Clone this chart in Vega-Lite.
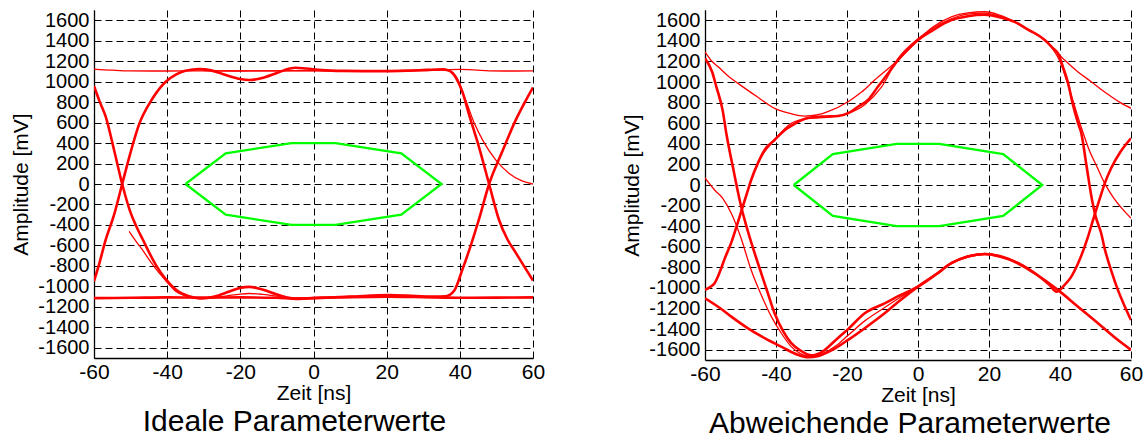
{
  "$schema": "https://vega.github.io/schema/vega-lite/v6.json",
  "padding": {"left": 10, "top": 10, "right": 5, "bottom": 0},
  "background": "white",
  "spacing": 76,
  "config": {
    "font": "Liberation Sans",
    "view": {"stroke": null},
    "axis": {
      "grid": true, "gridColor": "#000000", "gridDash": [7, 4], "gridOpacity": 1, "gridWidth": 1,
      "domainColor": "#000000", "domainWidth": 1.3, "ticks": false,
      "labelFontSize": 21, "titleFontSize": 21, "titleFontWeight": "normal", "labelOverlap": false,
      "labelColor": "#000000", "titleColor": "#000000", "labelExpr": "'' + datum.value"
    },
    "axisX": {"labelPadding": 3, "titlePadding": 0, "labelFlush": false},
    "axisY": {"labelPadding": 5, "titlePadding": 6, "labelFontSize": 20}
  },
  "datasets": {
    "mask": [
      {"i": 0, "t": -35, "v": 0}, {"i": 1, "t": -24, "v": 300}, {"i": 2, "t": -6, "v": 400}, {"i": 3, "t": 6, "v": 400},
      {"i": 4, "t": 24, "v": 300}, {"i": 5, "t": 35, "v": 0}, {"i": 6, "t": 24, "v": -300}, {"i": 7, "t": 6, "v": -400},
      {"i": 8, "t": -6, "v": -400}, {"i": 9, "t": -24, "v": -300}, {"i": 10, "t": -35, "v": 0}
    ],
    "eye": [
      {"p":"L","tr":"L1","t":-60,"v":-950},{"p":"L","tr":"L1","t":-58.5,"v":-770},{"p":"L","tr":"L1","t":-56.8,"v":-544},{"p":"L","tr":"L1","t":-54.5,"v":-300},{"p":"L","tr":"L1","t":-52.3,"v":0},{"p":"L","tr":"L1","t":-50,"v":310},{"p":"L","tr":"L1","t":-47.7,"v":580},{"p":"L","tr":"L1","t":-44.1,"v":830},{"p":"L","tr":"L1","t":-40.4,"v":999},{"p":"L","tr":"L1","t":-37.5,"v":1070},{"p":"L","tr":"L1","t":-35.9,"v":1097},{"p":"L","tr":"L1","t":-33.5,"v":1115},{"p":"L","tr":"L1","t":-31.3,"v":1122},{"p":"L","tr":"L1","t":-28,"v":1110},{"p":"L","tr":"L1","t":-24,"v":1065},{"p":"L","tr":"L1","t":-20,"v":1025},{"p":"L","tr":"L1","t":-17.6,"v":1016},{"p":"L","tr":"L1","t":-14,"v":1035},{"p":"L","tr":"L1","t":-10,"v":1085},{"p":"L","tr":"L1","t":-6.5,"v":1128},{"p":"L","tr":"L1","t":-4.9,"v":1136},{"p":"L","tr":"L1","t":-2,"v":1128},{"p":"L","tr":"L1","t":2.3,"v":1113},{"p":"L","tr":"L1","t":8,"v":1105},{"p":"L","tr":"L1","t":14,"v":1103},{"p":"L","tr":"L1","t":19.7,"v":1103},{"p":"L","tr":"L1","t":26,"v":1108},{"p":"L","tr":"L1","t":31,"v":1115},{"p":"L","tr":"L1","t":35.2,"v":1120},{"p":"L","tr":"L1","t":37,"v":1108},{"p":"L","tr":"L1","t":38.9,"v":1040},{"p":"L","tr":"L1","t":40.7,"v":900},{"p":"L","tr":"L1","t":42.5,"v":680},{"p":"L","tr":"L1","t":45.2,"v":366},{"p":"L","tr":"L1","t":48,"v":0},{"p":"L","tr":"L1","t":50.7,"v":-349},{"p":"L","tr":"L1","t":53,"v":-540},{"p":"L","tr":"L1","t":55.3,"v":-673},{"p":"L","tr":"L1","t":57.5,"v":-800},{"p":"L","tr":"L1","t":60,"v":-943},
      {"p":"L","tr":"L2","t":-60,"v":957},{"p":"L","tr":"L2","t":-58.5,"v":810},{"p":"L","tr":"L2","t":-56.8,"v":658},{"p":"L","tr":"L2","t":-54.5,"v":330},{"p":"L","tr":"L2","t":-52.3,"v":0},{"p":"L","tr":"L2","t":-50,"v":-280},{"p":"L","tr":"L2","t":-48.6,"v":-400},{"p":"L","tr":"L2","t":-46.7,"v":-540},{"p":"L","tr":"L2","t":-43.1,"v":-790},{"p":"L","tr":"L2","t":-40.4,"v":-930},{"p":"L","tr":"L2","t":-38.6,"v":-1000},{"p":"L","tr":"L2","t":-36,"v":-1070},{"p":"L","tr":"L2","t":-34,"v":-1096},{"p":"L","tr":"L2","t":-30.4,"v":-1119},{"p":"L","tr":"L2","t":-27,"v":-1100},{"p":"L","tr":"L2","t":-23,"v":-1050},{"p":"L","tr":"L2","t":-20,"v":-1015},{"p":"L","tr":"L2","t":-17.6,"v":-1005},{"p":"L","tr":"L2","t":-14,"v":-1030},{"p":"L","tr":"L2","t":-10,"v":-1080},{"p":"L","tr":"L2","t":-6.5,"v":-1115},{"p":"L","tr":"L2","t":-4.9,"v":-1122},{"p":"L","tr":"L2","t":-2,"v":-1118},{"p":"L","tr":"L2","t":2.3,"v":-1110},{"p":"L","tr":"L2","t":10,"v":-1100},{"p":"L","tr":"L2","t":20.6,"v":-1085},{"p":"L","tr":"L2","t":28,"v":-1095},{"p":"L","tr":"L2","t":33,"v":-1100},{"p":"L","tr":"L2","t":36.1,"v":-1096},{"p":"L","tr":"L2","t":38.5,"v":-1040},{"p":"L","tr":"L2","t":40.7,"v":-836},{"p":"L","tr":"L2","t":43,"v":-600},{"p":"L","tr":"L2","t":45.2,"v":-349},{"p":"L","tr":"L2","t":48,"v":0},{"p":"L","tr":"L2","t":51.6,"v":317},{"p":"L","tr":"L2","t":55.3,"v":626},{"p":"L","tr":"L2","t":57.5,"v":780},{"p":"L","tr":"L2","t":60,"v":944},
      {"p":"L","tr":"L3","t":-60,"v":1123},{"p":"L","tr":"L3","t":-55,"v":1112},{"p":"L","tr":"L3","t":-50,"v":1105},{"p":"L","tr":"L3","t":-40,"v":1104},{"p":"L","tr":"L3","t":-30,"v":1105},{"p":"L","tr":"L3","t":-20,"v":1106},{"p":"L","tr":"L3","t":-10,"v":1106},{"p":"L","tr":"L3","t":0,"v":1106},{"p":"L","tr":"L3","t":10,"v":1105},{"p":"L","tr":"L3","t":20,"v":1106},{"p":"L","tr":"L3","t":30,"v":1108},{"p":"L","tr":"L3","t":36,"v":1115},{"p":"L","tr":"L3","t":40,"v":1120},{"p":"L","tr":"L3","t":44,"v":1115},{"p":"L","tr":"L3","t":48,"v":1106},{"p":"L","tr":"L3","t":54,"v":1104},{"p":"L","tr":"L3","t":60,"v":1106},
      {"p":"L","tr":"L4","t":-60,"v":-1115},{"p":"L","tr":"L4","t":-50,"v":-1112},{"p":"L","tr":"L4","t":-40,"v":-1108},{"p":"L","tr":"L4","t":-30,"v":-1110},{"p":"L","tr":"L4","t":-20,"v":-1108},{"p":"L","tr":"L4","t":-10,"v":-1112},{"p":"L","tr":"L4","t":-5,"v":-1120},{"p":"L","tr":"L4","t":0,"v":-1115},{"p":"L","tr":"L4","t":10,"v":-1105},{"p":"L","tr":"L4","t":20,"v":-1100},{"p":"L","tr":"L4","t":30,"v":-1105},{"p":"L","tr":"L4","t":40,"v":-1112},{"p":"L","tr":"L4","t":50,"v":-1110},{"p":"L","tr":"L4","t":60,"v":-1108},
      {"p":"L","tr":"L5","t":-50.4,"v":-463},{"p":"L","tr":"L5","t":-48.5,"v":-560},{"p":"L","tr":"L5","t":-46.8,"v":-641},{"p":"L","tr":"L5","t":-44.5,"v":-760},{"p":"L","tr":"L5","t":-42.2,"v":-869},{"p":"L","tr":"L5","t":-40,"v":-960},{"p":"L","tr":"L5","t":-37.7,"v":-1048},{"p":"L","tr":"L5","t":-35,"v":-1090},{"p":"L","tr":"L5","t":-33,"v":-1112},{"p":"L","tr":"L5","t":-29,"v":-1115},{"p":"L","tr":"L5","t":-24,"v":-1095},{"p":"L","tr":"L5","t":-20,"v":-1075},{"p":"L","tr":"L5","t":-17.6,"v":-1070},{"p":"L","tr":"L5","t":-14,"v":-1078},{"p":"L","tr":"L5","t":-10,"v":-1095},{"p":"L","tr":"L5","t":-5,"v":-1112},{"p":"L","tr":"L5","t":0,"v":-1112},{"p":"L","tr":"L5","t":10,"v":-1105},{"p":"L","tr":"L5","t":20,"v":-1098},{"p":"L","tr":"L5","t":30,"v":-1105},{"p":"L","tr":"L5","t":40,"v":-1110},{"p":"L","tr":"L5","t":50,"v":-1110},{"p":"L","tr":"L5","t":60,"v":-1110},
      {"p":"L","tr":"L6","t":-30,"v":1108},{"p":"L","tr":"L6","t":-20,"v":1104},{"p":"L","tr":"L6","t":-10,"v":1106},{"p":"L","tr":"L6","t":0,"v":1108},{"p":"L","tr":"L6","t":10,"v":1106},{"p":"L","tr":"L6","t":20,"v":1104},{"p":"L","tr":"L6","t":30,"v":1110},{"p":"L","tr":"L6","t":35,"v":1118},{"p":"L","tr":"L6","t":37,"v":1110},{"p":"L","tr":"L6","t":39,"v":1050},{"p":"L","tr":"L6","t":41.6,"v":821},{"p":"L","tr":"L6","t":44,"v":590},{"p":"L","tr":"L6","t":46.2,"v":431},{"p":"L","tr":"L6","t":49.8,"v":236},{"p":"L","tr":"L6","t":53.4,"v":106},{"p":"L","tr":"L6","t":57,"v":30},{"p":"L","tr":"L6","t":60,"v":0},
      {"p":"R","tr":"R1","t":-60,"v":1230},{"p":"R","tr":"R1","t":-58,"v":1100},{"p":"R","tr":"R1","t":-56.8,"v":954},{"p":"R","tr":"R1","t":-55,"v":720},{"p":"R","tr":"R1","t":-54,"v":502},{"p":"R","tr":"R1","t":-52,"v":150},{"p":"R","tr":"R1","t":-49.8,"v":-211},{"p":"R","tr":"R1","t":-48.5,"v":-380},{"p":"R","tr":"R1","t":-45,"v":-770},{"p":"R","tr":"R1","t":-42.5,"v":-1030},{"p":"R","tr":"R1","t":-40.4,"v":-1246},{"p":"R","tr":"R1","t":-38,"v":-1420},{"p":"R","tr":"R1","t":-35.7,"v":-1537},{"p":"R","tr":"R1","t":-33,"v":-1610},{"p":"R","tr":"R1","t":-30,"v":-1655},{"p":"R","tr":"R1","t":-27,"v":-1620},{"p":"R","tr":"R1","t":-23,"v":-1500},{"p":"R","tr":"R1","t":-19.7,"v":-1400},{"p":"R","tr":"R1","t":-15,"v":-1246},{"p":"R","tr":"R1","t":-9.4,"v":-1150},{"p":"R","tr":"R1","t":-5,"v":-1070},{"p":"R","tr":"R1","t":0,"v":-987},{"p":"R","tr":"R1","t":5,"v":-870},{"p":"R","tr":"R1","t":9.4,"v":-760},{"p":"R","tr":"R1","t":14,"v":-695},{"p":"R","tr":"R1","t":18.8,"v":-670},{"p":"R","tr":"R1","t":23,"v":-695},{"p":"R","tr":"R1","t":28.2,"v":-760},{"p":"R","tr":"R1","t":33,"v":-860},{"p":"R","tr":"R1","t":37,"v":-970},{"p":"R","tr":"R1","t":39,"v":-1036},{"p":"R","tr":"R1","t":41.3,"v":-971},{"p":"R","tr":"R1","t":43,"v":-900},{"p":"R","tr":"R1","t":45.1,"v":-760},{"p":"R","tr":"R1","t":47.9,"v":-502},{"p":"R","tr":"R1","t":49.3,"v":-340},{"p":"R","tr":"R1","t":51.5,"v":-100},{"p":"R","tr":"R1","t":52.6,"v":16},{"p":"R","tr":"R1","t":54.5,"v":170},{"p":"R","tr":"R1","t":57,"v":320},{"p":"R","tr":"R1","t":60,"v":453},
      {"p":"R","tr":"R2","t":-60,"v":-1019},{"p":"R","tr":"R2","t":-58.5,"v":-990},{"p":"R","tr":"R2","t":-57.3,"v":-954},{"p":"R","tr":"R2","t":-56,"v":-860},{"p":"R","tr":"R2","t":-54.5,"v":-720},{"p":"R","tr":"R2","t":-52.6,"v":-560},{"p":"R","tr":"R2","t":-50,"v":-280},{"p":"R","tr":"R2","t":-48,"v":-60},{"p":"R","tr":"R2","t":-47,"v":49},{"p":"R","tr":"R2","t":-45,"v":220},{"p":"R","tr":"R2","t":-43.2,"v":340},{"p":"R","tr":"R2","t":-40.4,"v":437},{"p":"R","tr":"R2","t":-37.5,"v":534},{"p":"R","tr":"R2","t":-35,"v":590},{"p":"R","tr":"R2","t":-31,"v":650},{"p":"R","tr":"R2","t":-27,"v":664},{"p":"R","tr":"R2","t":-22.5,"v":670},{"p":"R","tr":"R2","t":-19.5,"v":700},{"p":"R","tr":"R2","t":-16.9,"v":760},{"p":"R","tr":"R2","t":-14,"v":830},{"p":"R","tr":"R2","t":-11.3,"v":954},{"p":"R","tr":"R2","t":-8.5,"v":1080},{"p":"R","tr":"R2","t":-5.6,"v":1214},{"p":"R","tr":"R2","t":-3,"v":1310},{"p":"R","tr":"R2","t":0,"v":1408},{"p":"R","tr":"R2","t":4,"v":1500},{"p":"R","tr":"R2","t":9.4,"v":1602},{"p":"R","tr":"R2","t":14,"v":1640},{"p":"R","tr":"R2","t":18.8,"v":1654},{"p":"R","tr":"R2","t":23,"v":1630},{"p":"R","tr":"R2","t":27.2,"v":1585},{"p":"R","tr":"R2","t":31,"v":1510},{"p":"R","tr":"R2","t":35.7,"v":1408},{"p":"R","tr":"R2","t":38,"v":1330},{"p":"R","tr":"R2","t":39.4,"v":1280},{"p":"R","tr":"R2","t":41,"v":1130},{"p":"R","tr":"R2","t":42.3,"v":987},{"p":"R","tr":"R2","t":43.5,"v":800},{"p":"R","tr":"R2","t":45.1,"v":599},{"p":"R","tr":"R2","t":46,"v":502},{"p":"R","tr":"R2","t":47.5,"v":180},{"p":"R","tr":"R2","t":49,"v":-140},{"p":"R","tr":"R2","t":50,"v":-300},{"p":"R","tr":"R2","t":51.6,"v":-469},{"p":"R","tr":"R2","t":52.6,"v":-620},{"p":"R","tr":"R2","t":54.5,"v":-840},{"p":"R","tr":"R2","t":56.3,"v":-1019},{"p":"R","tr":"R2","t":58,"v":-1160},{"p":"R","tr":"R2","t":60,"v":-1311},
      {"p":"R","tr":"R3","t":-60,"v":1294},{"p":"R","tr":"R3","t":-58,"v":1200},{"p":"R","tr":"R3","t":-56.3,"v":1149},{"p":"R","tr":"R3","t":-53.5,"v":1060},{"p":"R","tr":"R3","t":-50.7,"v":987},{"p":"R","tr":"R3","t":-45,"v":850},{"p":"R","tr":"R3","t":-40.4,"v":745},{"p":"R","tr":"R3","t":-36,"v":695},{"p":"R","tr":"R3","t":-31.9,"v":670},{"p":"R","tr":"R3","t":-28.5,"v":680},{"p":"R","tr":"R3","t":-25.4,"v":712},{"p":"R","tr":"R3","t":-19.7,"v":809},{"p":"R","tr":"R3","t":-16,"v":900},{"p":"R","tr":"R3","t":-12.2,"v":1019},{"p":"R","tr":"R3","t":-5.6,"v":1214},{"p":"R","tr":"R3","t":0,"v":1408},{"p":"R","tr":"R3","t":4,"v":1530},{"p":"R","tr":"R3","t":9.4,"v":1634},{"p":"R","tr":"R3","t":14,"v":1672},{"p":"R","tr":"R3","t":18.8,"v":1683},{"p":"R","tr":"R3","t":23,"v":1650},{"p":"R","tr":"R3","t":27.2,"v":1585},{"p":"R","tr":"R3","t":31.5,"v":1500},{"p":"R","tr":"R3","t":35.7,"v":1408},{"p":"R","tr":"R3","t":38.5,"v":1310},{"p":"R","tr":"R3","t":41.3,"v":1214},{"p":"R","tr":"R3","t":45,"v":1100},{"p":"R","tr":"R3","t":48.8,"v":1003},{"p":"R","tr":"R3","t":51.5,"v":930},{"p":"R","tr":"R3","t":54.5,"v":857},{"p":"R","tr":"R3","t":57,"v":800},{"p":"R","tr":"R3","t":60,"v":745},
      {"p":"R","tr":"R4","t":-60,"v":-1100},{"p":"R","tr":"R4","t":-56,"v":-1190},{"p":"R","tr":"R4","t":-52.6,"v":-1279},{"p":"R","tr":"R4","t":-48,"v":-1390},{"p":"R","tr":"R4","t":-43.2,"v":-1488},{"p":"R","tr":"R4","t":-38,"v":-1580},{"p":"R","tr":"R4","t":-33.8,"v":-1650},{"p":"R","tr":"R4","t":-31,"v":-1673},{"p":"R","tr":"R4","t":-28,"v":-1660},{"p":"R","tr":"R4","t":-24,"v":-1600},{"p":"R","tr":"R4","t":-19.7,"v":-1505},{"p":"R","tr":"R4","t":-15,"v":-1391},{"p":"R","tr":"R4","t":-9.4,"v":-1246},{"p":"R","tr":"R4","t":-5,"v":-1120},{"p":"R","tr":"R4","t":0,"v":-987},{"p":"R","tr":"R4","t":5,"v":-870},{"p":"R","tr":"R4","t":9.4,"v":-760},{"p":"R","tr":"R4","t":14,"v":-695},{"p":"R","tr":"R4","t":18.8,"v":-670},{"p":"R","tr":"R4","t":23,"v":-690},{"p":"R","tr":"R4","t":28.2,"v":-760},{"p":"R","tr":"R4","t":33,"v":-860},{"p":"R","tr":"R4","t":39.4,"v":-1019},{"p":"R","tr":"R4","t":45,"v":-1180},{"p":"R","tr":"R4","t":50.7,"v":-1343},{"p":"R","tr":"R4","t":55,"v":-1470},{"p":"R","tr":"R4","t":60,"v":-1602},
      {"p":"R","tr":"R5","t":-60,"v":68},{"p":"R","tr":"R5","t":-57.3,"v":-49},{"p":"R","tr":"R5","t":-55,"v":-130},{"p":"R","tr":"R5","t":-52.6,"v":-275},{"p":"R","tr":"R5","t":-50,"v":-500},{"p":"R","tr":"R5","t":-47,"v":-825},{"p":"R","tr":"R5","t":-44,"v":-1080},{"p":"R","tr":"R5","t":-41.3,"v":-1279},{"p":"R","tr":"R5","t":-38.5,"v":-1440},{"p":"R","tr":"R5","t":-35.7,"v":-1570},{"p":"R","tr":"R5","t":-33,"v":-1640},{"p":"R","tr":"R5","t":-30,"v":-1667},{"p":"R","tr":"R5","t":-27,"v":-1640},{"p":"R","tr":"R5","t":-23,"v":-1560},{"p":"R","tr":"R5","t":-19.7,"v":-1460},{"p":"R","tr":"R5","t":-15,"v":-1320},{"p":"R","tr":"R5","t":-9.4,"v":-1190},{"p":"R","tr":"R5","t":-5,"v":-1090},{"p":"R","tr":"R5","t":0,"v":-987},{"p":"R","tr":"R5","t":5,"v":-870},{"p":"R","tr":"R5","t":9.4,"v":-760},{"p":"R","tr":"R5","t":14,"v":-695},{"p":"R","tr":"R5","t":18.8,"v":-668},{"p":"R","tr":"R5","t":23,"v":-690},{"p":"R","tr":"R5","t":28.2,"v":-760},{"p":"R","tr":"R5","t":33,"v":-860},{"p":"R","tr":"R5","t":39.4,"v":-1019},{"p":"R","tr":"R5","t":45,"v":-1180},{"p":"R","tr":"R5","t":50.7,"v":-1343},{"p":"R","tr":"R5","t":55,"v":-1470},{"p":"R","tr":"R5","t":60,"v":-1602},
      {"p":"R","tr":"R6","t":-60,"v":-1019},{"p":"R","tr":"R6","t":-57.3,"v":-954},{"p":"R","tr":"R6","t":-56,"v":-860},{"p":"R","tr":"R6","t":-54.5,"v":-720},{"p":"R","tr":"R6","t":-52.6,"v":-560},{"p":"R","tr":"R6","t":-50,"v":-280},{"p":"R","tr":"R6","t":-48,"v":-60},{"p":"R","tr":"R6","t":-45,"v":220},{"p":"R","tr":"R6","t":-40.4,"v":437},{"p":"R","tr":"R6","t":-35.7,"v":599},{"p":"R","tr":"R6","t":-31,"v":647},{"p":"R","tr":"R6","t":-24.4,"v":663},{"p":"R","tr":"R6","t":-20.2,"v":690},{"p":"R","tr":"R6","t":-15,"v":780},{"p":"R","tr":"R6","t":-10.3,"v":950},{"p":"R","tr":"R6","t":-5.6,"v":1230},{"p":"R","tr":"R6","t":0,"v":1420},{"p":"R","tr":"R6","t":4,"v":1520},{"p":"R","tr":"R6","t":9.4,"v":1615},{"p":"R","tr":"R6","t":14,"v":1660},{"p":"R","tr":"R6","t":18.8,"v":1670},{"p":"R","tr":"R6","t":23,"v":1640},{"p":"R","tr":"R6","t":27.2,"v":1585},{"p":"R","tr":"R6","t":31,"v":1510},{"p":"R","tr":"R6","t":35.7,"v":1408},{"p":"R","tr":"R6","t":38,"v":1320},{"p":"R","tr":"R6","t":40,"v":1200},{"p":"R","tr":"R6","t":42,"v":1000},{"p":"R","tr":"R6","t":44,"v":780},{"p":"R","tr":"R6","t":46,"v":560},{"p":"R","tr":"R6","t":48,"v":360},{"p":"R","tr":"R6","t":50.5,"v":170},{"p":"R","tr":"R6","t":52.6,"v":16},{"p":"R","tr":"R6","t":55,"v":-120},{"p":"R","tr":"R6","t":57.5,"v":-230},{"p":"R","tr":"R6","t":60,"v":-323}
    ]
  },
  "hconcat": [
    {
      "width": 439, "height": 348,
      "title": {"text": "Ideale Parameterwerte", "orient": "bottom", "frame": "group", "anchor": "middle", "fontSize": 30, "fontWeight": "normal", "color": "#000000", "dx": -19, "offset": 4},
      "encoding": {
        "x": {"field": "t", "type": "quantitative", "scale": {"domain": [-60, 60], "nice": false, "zero": false},
              "axis": {"title": "Zeit [ns]", "values": [-60, -40, -20, 0, 20, 40, 60]}},
        "y": {"field": "v", "type": "quantitative", "scale": {"domain": [-1700, 1700], "nice": false},
              "axis": {"title": "Amplitude [mV]", "values": [-1600, -1400, -1200, -1000, -800, -600, -400, -200, 0, 200, 400, 600, 800, 1000, 1200, 1400, 1600]}}
      },
      "layer": [
        {"data": {"name": "eye"}, "transform": [{"filter": "datum.p == 'L' && indexof(['L3','L5','L6'], datum.tr) >= 0"}],
         "mark": {"type": "line", "color": "#ff0000", "strokeWidth": 1.3, "interpolate": "monotone", "clip": true},
         "encoding": {"detail": {"field": "tr"}, "order": {"field": "t"}}},
        {"data": {"name": "eye"}, "transform": [{"filter": "datum.p == 'L' && indexof(['L1','L2','L4'], datum.tr) >= 0"}],
         "mark": {"type": "line", "color": "#ff0000", "strokeWidth": 2.6, "interpolate": "monotone", "clip": true},
         "encoding": {"detail": {"field": "tr"}, "order": {"field": "t"}}},
        {"data": {"name": "mask"},
         "mark": {"type": "line", "color": "#00ff00", "strokeWidth": 2.3},
         "encoding": {"order": {"field": "i"}}}
      ]
    },
    {
      "width": 426, "height": 350,
      "title": {"text": "Abweichende Parameterwerte", "orient": "bottom", "frame": "group", "anchor": "middle", "fontSize": 30, "fontWeight": "normal", "color": "#000000", "dx": -8, "offset": 4},
      "encoding": {
        "x": {"field": "t", "type": "quantitative", "scale": {"domain": [-60, 60], "nice": false, "zero": false},
              "axis": {"title": "Zeit [ns]", "values": [-60, -40, -20, 0, 20, 40, 60]}},
        "y": {"field": "v", "type": "quantitative", "scale": {"domain": [-1700, 1700], "nice": false},
              "axis": {"title": "Amplitude [mV]", "values": [-1600, -1400, -1200, -1000, -800, -600, -400, -200, 0, 200, 400, 600, 800, 1000, 1200, 1400, 1600]}}
      },
      "layer": [
        {"data": {"name": "eye"}, "transform": [{"filter": "datum.p == 'R' && indexof(['R3','R5','R6'], datum.tr) >= 0"}],
         "mark": {"type": "line", "color": "#ff0000", "strokeWidth": 1.3, "interpolate": "monotone", "clip": true},
         "encoding": {"detail": {"field": "tr"}, "order": {"field": "t"}}},
        {"data": {"name": "eye"}, "transform": [{"filter": "datum.p == 'R' && indexof(['R1','R2','R4'], datum.tr) >= 0"}],
         "mark": {"type": "line", "color": "#ff0000", "strokeWidth": 2.6, "interpolate": "monotone", "clip": true},
         "encoding": {"detail": {"field": "tr"}, "order": {"field": "t"}}},
        {"data": {"name": "mask"},
         "mark": {"type": "line", "color": "#00ff00", "strokeWidth": 2.3},
         "encoding": {"order": {"field": "i"}}}
      ]
    }
  ]
}
